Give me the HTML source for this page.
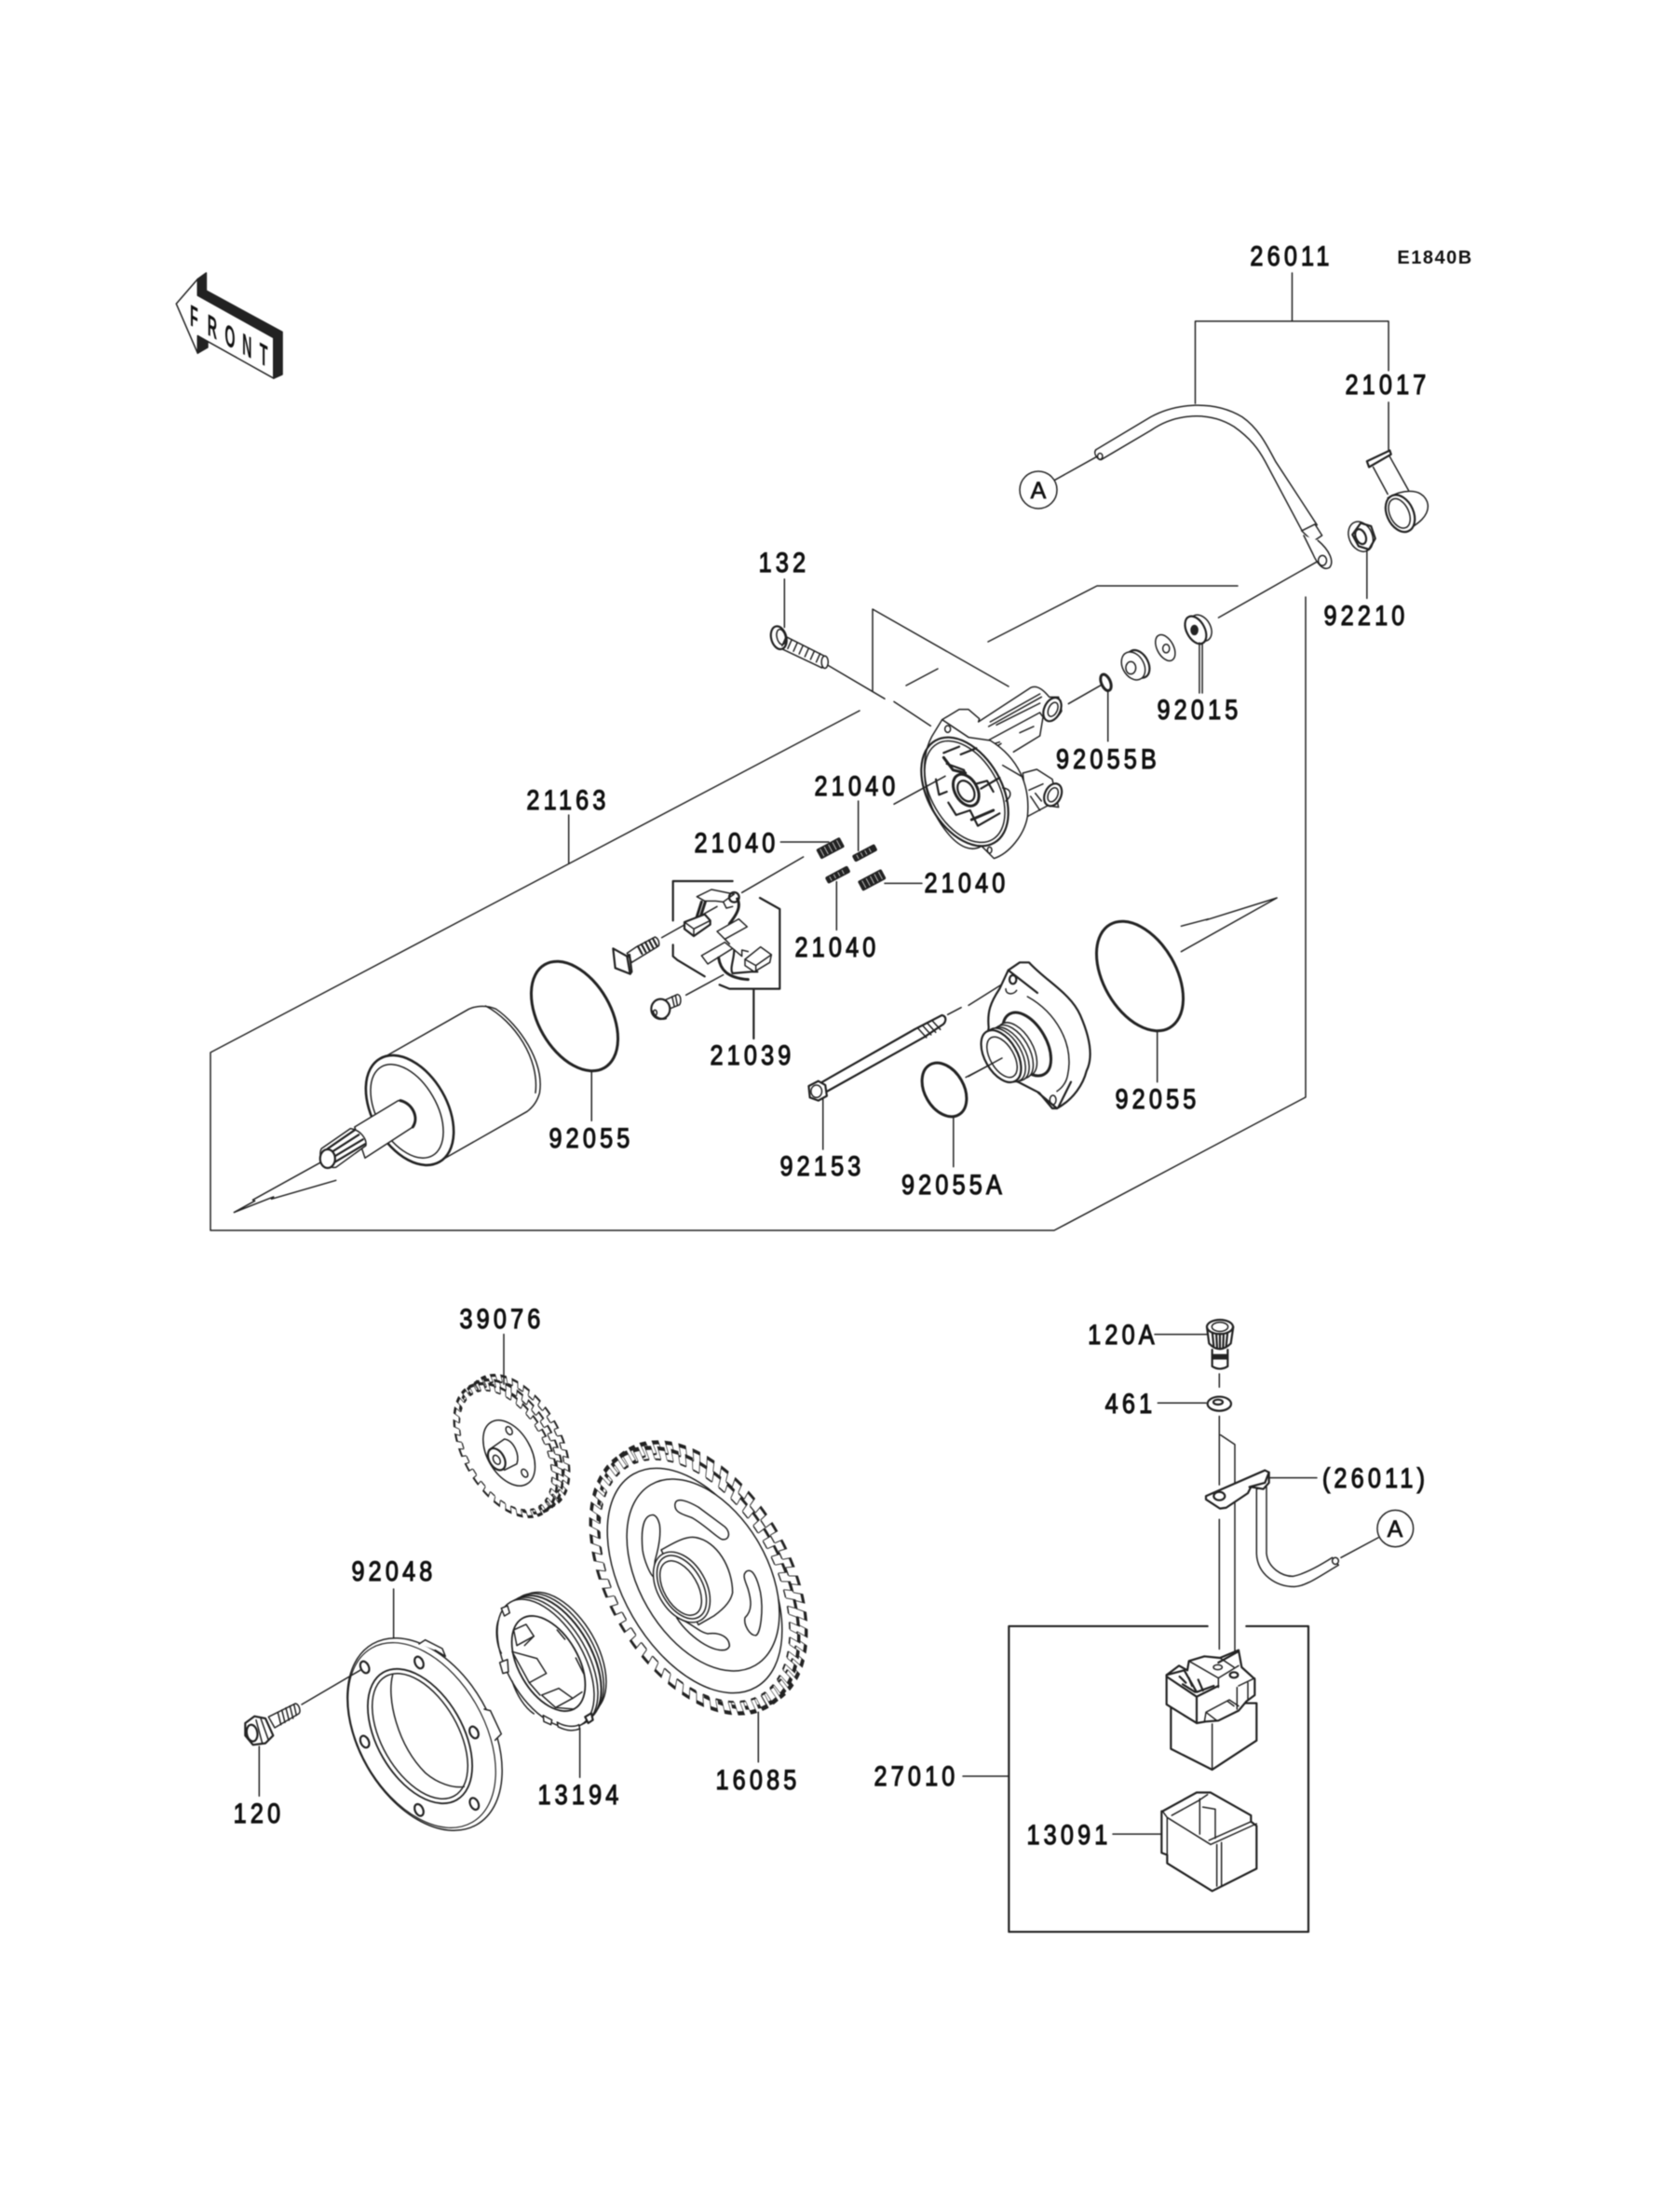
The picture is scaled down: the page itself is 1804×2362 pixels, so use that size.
<!DOCTYPE html>
<html><head><meta charset="utf-8"><style>
html,body{margin:0;padding:0;background:#fff}
svg{display:block;filter:blur(.5px)}
.l path,.l line,.l polyline,.l polygon,.l ellipse,.l circle{fill:none;stroke:#222;stroke-width:1.5;stroke-linejoin:round;stroke-linecap:round;vector-effect:non-scaling-stroke}
.l .f{fill:#fff}
.l .k{fill:#222}
.l .t{stroke-width:3}
.l .m{stroke-width:2.2}
text{font-family:"Liberation Sans",sans-serif;fill:#111;stroke:#111;stroke-width:.7;font-size:30px;letter-spacing:1.5px;text-anchor:middle}
.lb text{stroke-width:1.2;letter-spacing:5px;transform-box:fill-box;transform-origin:center;transform:scaleX(.84)}
</style></head><body>
<svg xmlns="http://www.w3.org/2000/svg" width="1804" height="2362" viewBox="0 0 1804 2362">
<rect width="1804" height="2362" fill="#fff"/>
<defs>
<g id="g52">
<circle r="95" fill="none" stroke="#222" stroke-width="10" pathLength="46" stroke-dasharray=".54 .46"/>
<circle r="90" fill="#fff" stroke="#222" stroke-width="1.4" pathLength="46" stroke-dasharray=".46 .54" stroke-dashoffset="-.54"/>
<circle r="93" fill="none" stroke="#fff" stroke-width="8" pathLength="46" stroke-dasharray=".44 .56" stroke-dashoffset="-.05"/>
</g>
<g id="g32">
<circle r="94" fill="none" stroke="#222" stroke-width="12" pathLength="28" stroke-dasharray=".56 .44"/>
<circle r="88" fill="#fff" stroke="#222" stroke-width="2.6" pathLength="28" stroke-dasharray=".44 .56" stroke-dashoffset="-.56"/>
<circle r="91.5" fill="none" stroke="#fff" stroke-width="8.5" pathLength="28" stroke-dasharray=".42 .58" stroke-dashoffset="-.07"/>
</g>
</defs>

<!-- gears -->
<use href="#g52" transform="translate(754,1691) rotate(60) scale(1.58,.94)"/>
<use href="#g52" transform="translate(746,1697) rotate(60) scale(1.58,.94)"/>
<use href="#g32" transform="translate(556,1548) rotate(60) scale(.8,.46)"/>
<use href="#g32" transform="translate(549,1553) rotate(60) scale(.8,.46)"/>
<use href="#g32" transform="translate(543,1557) rotate(60) scale(.8,.46)"/>

<g class="l">
<!-- housing outline -->
<path d="M923,763L226,1130V1321H1132L1402,1178V641"/>
<path d="M937,742V654L1083,737"/>
<path d="M1061,689L1178,629H1329"/>
<path d="M973,736L1007,718"/>
<!-- real px rings -->
<ellipse cx="617" cy="1091" rx="64" ry="39" transform="rotate(60 617 1091)" class="t"/>
<ellipse cx="1224" cy="1048" rx="64" ry="39" transform="rotate(60 1224 1048)" class="t"/>
<ellipse cx="1014" cy="1170" rx="31" ry="21" transform="rotate(60 1014 1170)" class="t"/>
<line x1="1034" y1="1907" x2="1083" y2="1907"/>

<!-- crop1 -->
<g transform="translate(150,230) scale(.5102,.4145)">
<polygon class="f" points="77,232 122,168 122,210 282,320 282,425 122,315 122,360"/>
<polygon class="k" points="122,168 140,152 140,198 300,305 300,415 282,425 282,320 122,210"/>
<polygon class="k" points="122,315 143,330 143,345 122,360"/>
<line x1="1357" y1="945" x2="1357" y2="1070"/>
<path d="M1448,1168L1568,1255"/>
<path class="f" d="M1350,1088L1442,1145L1436,1175L1345,1122Z"/>
<ellipse class="f m" cx="1345" cy="1097" rx="16" ry="30" transform="rotate(-10 1345 1097)"/>
<ellipse cx="1350" cy="1095" rx="9" ry="20" transform="rotate(-10 1350 1095)"/>
<ellipse class="f" cx="1442" cy="1160" rx="7" ry="16"/>
<path d="M1360,1096L1352,1118M1372,1103L1364,1125M1384,1110L1376,1132M1396,1117L1388,1139M1408,1124L1400,1146M1420,1131L1412,1153M1432,1138L1424,1160"/>
</g>

<!-- crop2: cable -->
<g transform="translate(950,230) scale(.4464,.4145)">
<path d="M980,152V277M747,490V277H1212V405M1212,487V615"/>
<path d="M508,610L640,525C700,490 790,480 860,525C900,555 920,600 940,640L1040,805"/>
<path d="M522,635L640,560C700,515 780,510 840,550C880,580 900,610 915,640L1003,818"/>
<path d="M508,610C500,620 515,640 522,635"/>
<ellipse cx="518" cy="627" rx="6" ry="8"/>
<line x1="410" y1="688" x2="510" y2="628"/>
<polygon class="f" points="1003,820 1035,803 1052,832 1030,848"/>
<path class="f" d="M1008,832L1030,880C1040,905 1055,925 1070,915C1082,900 1070,870 1042,845"/>
<ellipse cx="1053" cy="897" rx="10" ry="13"/>
<line x1="803" y1="1045" x2="1040" y2="900"/>
<!-- terminal 21017 -->
<path class="f m" d="M1160,640L1215,612L1218,622L1165,655Z"/>
<path d="M1175,655L1210,725M1215,628L1260,715"/>
<path class="f" d="M1210,735C1240,715 1290,705 1305,745C1315,780 1280,805 1250,822Z"/>
<ellipse class="f m" cx="1240" cy="775" rx="32" ry="50" transform="rotate(-22 1240 775)"/>
<ellipse cx="1238" cy="775" rx="23" ry="40" transform="rotate(-22 1238 775)"/>
<!-- nut -->
<ellipse class="f" cx="1145" cy="835" rx="28" ry="40" transform="rotate(-20 1145 835)"/>
<polygon class="m" points="1145,800 1170,808 1180,840 1165,868 1140,860 1125,830"/>
<ellipse class="m" cx="1145" cy="835" rx="12" ry="20" transform="rotate(-20 1145 835)"/>
<line x1="1160" y1="870" x2="1160" y2="995"/>
<!-- washers -->
<ellipse class="f" cx="760" cy="1072" rx="24" ry="36" transform="rotate(-25 760 1072)"/>
<ellipse class="f m" cx="748" cy="1077" rx="22" ry="38" transform="rotate(-25 748 1077)"/>
<ellipse class="k" cx="745" cy="1077" rx="8" ry="12"/>
<path d="M757,1110V1240M764,1110V1240"/>
<ellipse cx="675" cy="1123" rx="20" ry="36" transform="rotate(-25 675 1123)"/>
<ellipse cx="677" cy="1125" rx="8" ry="11"/>
<ellipse class="f m" cx="610" cy="1165" rx="24" ry="38" transform="rotate(-25 610 1165)"/>
<ellipse class="f" cx="598" cy="1170" rx="26" ry="38" transform="rotate(-25 598 1170)"/>
<ellipse cx="592" cy="1175" rx="12" ry="16"/>
<ellipse class="t" cx="532" cy="1213" rx="11" ry="22" transform="rotate(-20 532 1213)"/>
<line x1="537" y1="1235" x2="537" y2="1365"/>
<line x1="442" y1="1268" x2="520" y2="1220"/>
</g>

<!-- crop8: drive end housing -->
<g transform="translate(960,720) scale(.3333)">
<path d="M0,100L118,178"/>
<path class="f" d="M155,158L210,125H240L275,155L272,165L440,55C460,45 480,60 500,85L530,85L540,130C520,165 490,170 470,135L275,240L240,215Z"/>
<path d="M310,165L470,75M305,180L475,85M330,175L470,105"/>
<ellipse class="f m" cx="510" cy="125" rx="26" ry="40" transform="rotate(25 510 125)"/>
<ellipse cx="512" cy="125" rx="14" ry="24" transform="rotate(25 512 125)"/>
<path d="M385,262L470,210L480,150M340,230L275,250M405,200L450,180M305,260L345,235"/>
<path class="f" d="M415,330L460,318L510,350L530,440L495,435L430,470Z"/>
<path d="M435,385L480,365M440,405L470,450M455,395L475,420"/>
<ellipse class="f m" cx="512" cy="400" rx="26" ry="38" transform="rotate(25 512 400)"/>
<ellipse cx="512" cy="400" rx="15" ry="24" transform="rotate(25 512 400)"/>
<path class="f" d="M155,158L122,212C80,290 90,420 170,520C210,570 250,585 282,565L322,605C370,590 420,530 430,470C440,370 400,280 310,225L240,215Z"/>
<ellipse cx="173" cy="188" rx="9" ry="11"/>
<ellipse cx="308" cy="578" rx="7" ry="10"/>
<ellipse class="m" cx="228" cy="390" rx="190" ry="119" transform="rotate(60 228 390)"/>
<ellipse cx="228" cy="390" rx="178" ry="108" transform="rotate(60 228 390)"/>
<path d="M350,305L410,340M360,420C385,400 375,380 350,378"/>
<path class="m" d="M160,265L210,245M170,300L225,320L245,370L300,355L320,390M135,350L145,400L170,390M175,425L200,465L245,450L270,500L340,460M250,480L320,450M215,270L265,250M280,380L340,345"/>
<path class="t" d="M160,280L190,320L230,330M250,480L320,450"/>
<ellipse class="f t" cx="232" cy="385" rx="55" ry="36" transform="rotate(60 232 385)"/>
<ellipse class="m" cx="232" cy="388" rx="36" ry="24" transform="rotate(60 232 388)"/>
<line x1="0" y1="430" x2="165" y2="340"/>
</g>

<!-- crop9: brush area -->
<g transform="translate(640,880) scale(.3333)">
<path d="M595,72H750M845,-60V100M775,200V355M930,205H1050"/>
<path d="M470,235L668,120M212,380L390,280M290,565L410,500"/>
<path class="m" d="M440,198H248V325M248,403V440L262,452L350,505M528,252L592,288V545H430L398,532M508,545V705"/>
<!-- springs -->
<g transform="rotate(-28 755 92)"><rect class="k" x="712" y="74" width="86" height="36" rx="5"/><path d="M725,80V104M740,80V104M755,80V104M770,80V104M785,80V104" style="stroke:#bbb;stroke-width:1"/></g>
<g transform="rotate(-28 865 108)"><rect class="k" x="825" y="96" width="82" height="24" rx="6"/><path d="M840,102V114M855,102V114M870,102V114M885,102V114" style="stroke:#bbb;stroke-width:1"/></g>
<g transform="rotate(-28 778 178)"><rect class="k" x="738" y="166" width="82" height="24" rx="6"/><path d="M753,172V184M768,172V184M783,172V184M798,172V184" style="stroke:#bbb;stroke-width:1"/></g>
<g transform="rotate(-28 888 195)"><rect class="k" x="846" y="177" width="86" height="36" rx="5"/><path d="M860,183V207M875,183V207M890,183V207M905,183V207M920,183V207" style="stroke:#bbb;stroke-width:1"/></g>
<!-- pin -->
<path class="f" d="M100,430L130,410L190,378C205,385 205,405 200,408L115,460Z"/>
<path d="M135,408L148,432M147,402L160,426M159,395L172,420M171,389L184,413M183,383L196,407" class="m"/>
<polygon class="f m" points="55,415 100,440 110,497 62,478"/>
<path class="m" d="M100,440L108,435L115,490L110,497"/>
<!-- screw -->
<path class="f" d="M225,580L262,563C275,565 275,590 268,597L235,610Z"/>
<ellipse class="f m" cx="208" cy="610" rx="30" ry="32"/>
<path class="m" d="M183,618C190,640 210,645 225,640"/>
<ellipse cx="190" cy="622" rx="6" ry="9"/>
<path d="M245,570L252,600M256,566L262,597"/>
<!-- upper brush -->
<path class="f" d="M325,248L372,225L445,240L410,265L385,262L350,262Z"/>
<path class="t" d="M340,265L322,322M352,265L335,318"/>
<path class="f m" d="M285,330L350,305L368,325V338L315,375L285,352Z"/>
<path d="M285,330L315,352L368,325M315,352V375"/>
<ellipse class="m" cx="445" cy="250" rx="16" ry="16"/>
<path class="t" d="M455,255C470,280 450,310 430,335"/>
<path d="M410,265L420,285L440,280"/>
<!-- mid/lower -->
<polygon class="f" points="390,360 460,320 487,345 415,385"/>
<polygon class="f" points="340,438 415,395 440,415 360,465"/>
<path d="M415,385L430,400M440,415L470,440L470,420L490,425"/>
<path class="t" d="M395,445C400,480 420,510 490,515"/>
<path class="m" d="M445,420C445,450 430,480 440,495L500,490L520,490"/>
<path class="f" d="M480,450L530,410L565,435L560,460L510,490L480,470Z"/>
<path d="M480,450L515,470L565,435M515,470V490"/>
</g>

<!-- crop3: armature -->
<g transform="translate(200,880) scale(.4464,.3333)">
<path d="M920,-15V140M975,810V970"/>
<path d="M360,1162L205,1222L210,1215L115,1265L165,1228L160,1225L322,1105"/>
<path class="f" d="M480,762L680,610C700,598 725,598 745,610C800,660 862,780 850,880C845,905 835,925 820,940L610,1100Z"/>
<path d="M720,600C790,650 850,770 840,880"/>
</g>
<ellipse cx="440" cy="1192" rx="64" ry="40" transform="rotate(60 440 1192)" style="fill:#fff;stroke:#222;stroke-width:2.6"/>
<ellipse cx="437" cy="1193" rx="55" ry="32" transform="rotate(60 437 1193)" style="fill:#fff;stroke:#222;stroke-width:1.5"/>
<g transform="translate(200,880) scale(.4464,.3333)">
<path class="f" d="M405,990L510,905C540,905 560,960 545,990L430,1090Z"/>
<path class="t" d="M515,905C545,915 560,960 545,990"/>
<path class="f" d="M325,1060L395,995C420,1000 435,1030 432,1050L360,1120C335,1125 315,1085 325,1060Z"/>
<path d="M340,1060L405,1000M345,1075L415,1015M350,1090L425,1030M355,1105L430,1045" class="m"/>
<ellipse class="f m" cx="340" cy="1092" rx="18" ry="30"/>
</g>

<!-- crop4: rear end -->
<g transform="translate(800,950) scale(.4145,.3333)">
<line x1="202" y1="690" x2="202" y2="852"/>
<line x1="540" y1="750" x2="540" y2="908"/>
<line x1="1068" y1="475" x2="1068" y2="635"/>
<path d="M525,418L560,395"/>
<path class="m" d="M200,635L440,465L510,420C525,425 520,445 510,452L465,490L213,665"/>
<path d="M448,462L470,492M460,453L482,483M472,445L494,475M484,436L506,466"/>
<polygon class="f m" points="165,648 190,632 208,645 212,680 190,695 168,685"/>
<ellipse cx="185" cy="665" rx="14" ry="20"/>
<path d="M572,620L665,560"/>
<path d="M1130,133L1200,110L1195,113L1378,42L1130,215"/>
</g>
<!-- crop10: cover -->
<g transform="translate(1040,1020) scale(.3333)">
<path d="M0,178L105,112"/>
<path class="f m" d="M128,65L165,40H195C250,100 330,140 360,210C395,290 400,350 380,390C370,430 340,480 285,510H270L228,460L160,425C90,400 50,320 65,250C60,200 70,170 100,125Z"/>
<ellipse class="m" cx="143" cy="95" rx="11" ry="14"/>
<path class="m" d="M128,65L222,138"/>
<path d="M190,150C280,200 340,300 320,400C315,430 300,445 285,455"/>
<ellipse cx="272" cy="483" rx="10" ry="15"/>
<path class="m" d="M330,425L290,505M225,460L285,510"/>
<path d="M120,125C120,145 145,145 155,130"/>
<ellipse class="f t" cx="188" cy="303" rx="112" ry="62" transform="rotate(60 188 303)"/>
<ellipse class="f" cx="155" cy="320" rx="95" ry="52" transform="rotate(60 155 320)"/>
<ellipse class="f" cx="143" cy="328" rx="95" ry="52" transform="rotate(60 143 328)"/>
<ellipse class="f" cx="130" cy="335" rx="95" ry="52" transform="rotate(60 130 335)"/>
<ellipse class="f" cx="118" cy="338" rx="95" ry="52" transform="rotate(60 118 338)"/>
<ellipse class="f m" cx="105" cy="342" rx="92" ry="52" transform="rotate(60 105 342)"/>
<ellipse class="f" cx="108" cy="345" rx="72" ry="38" transform="rotate(60 108 345)"/>
<path d="M0,407L108,348"/>
</g>

<!-- crop7: solenoid -->
<g transform="translate(1060,1400) scale(.3333,.4464)">
<path class="m" d="M710,775H70V1510H1035V775H835"/>
<path d="M540,73H710M550,238H705M405,1275H560M910,418H1062M748,168V200M748,270V435M748,518V830M752,315L798,338V880M1140,610L1260,562"/>
<ellipse class="f" cx="1315" cy="540" rx="58" ry="44"/>
<!-- bolt -->
<path class="f m" d="M725,110V150C745,160 765,155 775,150V110"/>
<path class="k" d="M725,122H775V132H725Z"/>
<path class="f m" d="M708,55L715,95C740,115 765,110 785,95L793,55"/>
<path class="m" d="M725,65L730,102M738,68L741,106M750,70V108M762,68L760,106M775,65L770,102"/>
<ellipse class="f m" cx="750" cy="55" rx="42" ry="17"/>
<ellipse cx="750" cy="55" rx="26" ry="11"/>
<!-- washer -->
<ellipse class="f m" cx="748" cy="240" rx="38" ry="17"/>
<ellipse class="m" cx="744" cy="236" rx="15" ry="6"/>
<!-- terminal & cable -->
<path class="f" d="M868,445V600C870,650 930,680 990,680C1030,678 1070,655 1132,628L1112,610C1070,630 1020,650 985,655C950,655 905,635 900,600V440Z"/>
<ellipse class="f" cx="1122" cy="618" rx="10" ry="8"/>
<polygon class="f m" points="705,462 895,400 908,405 908,430 890,445 850,440 840,455 770,490 750,492 705,470"/>
<path class="m" d="M845,440L895,430L908,405"/>
<ellipse class="m" cx="748" cy="462" rx="18" ry="10"/>
<!-- solenoid lower -->
<path class="f m" d="M592,960V1070L725,1120L868,1050V960Z"/>
<line x1="725" y1="1010" x2="725" y2="1120"/>
<!-- cover -->
<path class="f m" d="M565,1220L675,1175H720L850,1230V1245L868,1255V1358L725,1412L580,1345V1325L562,1320V1220Z"/>
<path d="M580,1235L720,1300L868,1250M580,1235V1345M740,1300V1400M755,1295V1398M685,1190V1275M735,1215V1285M695,1210L735,1215M595,1230L680,1195L710,1180M715,1290L850,1245M565,1220L580,1235M720,1175L850,1230"/>
</g>
<g transform="translate(1230,1760) scale(.3333)">
<path class="f m" d="M68,115L108,85L135,100L140,70L190,55L240,60L300,35L310,90L352,128V180L325,200L300,230L235,262L195,265L165,270L68,210Z"/>
<path class="m" d="M68,120L165,185V270M165,185L235,150M68,115L125,100L165,170L220,150"/>
<path d="M140,70L235,125V155M235,125L300,85M240,60L285,90M190,265L195,235L270,195L300,215M195,235L230,262M265,200L285,215M300,150L352,125M295,155V225M330,140V195"/>
<path class="m" d="M110,120L130,140M140,125L150,150M170,130L185,165M120,145L160,170"/>
<ellipse class="m" cx="285" cy="115" rx="13" ry="9"/>
<ellipse cx="233" cy="90" rx="14" ry="8"/>
<path class="m" d="M235,75L298,40"/>
</g>

<!-- crop5: gear detail -->
<g transform="translate(450,1400) scale(.3333,.3827)">
<path d="M273,85V225M1093,1145V1285"/>
</g>
<ellipse cx="746" cy="1697" rx="132" ry="77" transform="rotate(60 746 1697)" style="fill:#fff;stroke:#222;stroke-width:1.5"/>
<ellipse cx="755" cy="1691" rx="112" ry="69" transform="rotate(60 755 1691)" style="fill:#fff;stroke:#222;stroke-width:1.5"/>
<g transform="translate(450,1400) scale(.3333,.3827)">
<path class="f" d="M825,560C830,540 870,555 900,570L985,625C1005,640 1000,665 975,660C960,655 920,620 880,600C850,590 820,585 825,560Z"/>
<path class="f" d="M750,592C720,595 715,640 720,690C725,720 745,760 755,765L760,720C770,690 780,650 775,620C770,600 760,590 750,592Z"/>
<path class="f" d="M1055,750C1075,740 1090,770 1100,810C1110,860 1100,925 1085,930C1065,930 1045,900 1050,880C1075,860 1070,830 1060,800C1050,775 1040,760 1055,750Z"/>
<path class="f" d="M830,880C870,890 900,920 930,925C970,920 1000,935 1000,960C990,980 950,970 920,955C890,940 850,910 830,880Z"/>
<path class="f" d="M780,690C820,670 860,650 890,655C960,665 1010,740 1010,810C1005,830 990,850 950,875L900,900Z"/>
</g>
<ellipse cx="732" cy="1704" rx="41" ry="26" transform="rotate(60 732 1704)" style="fill:#fff;stroke:#222;stroke-width:1.5"/>
<ellipse cx="732" cy="1704" rx="37" ry="22" transform="rotate(60 732 1704)" style="fill:none;stroke:#222;stroke-width:1.5"/>
<ellipse cx="731" cy="1705" rx="32" ry="18" transform="rotate(60 731 1705)" style="fill:#fff;stroke:#222;stroke-width:1.5"/>

<!-- small gear -->
<g transform="translate(480,1460) scale(.3333)">
<ellipse class="f" cx="200" cy="300" rx="115" ry="70" transform="rotate(60 200 300)"/>
<ellipse cx="200" cy="228" rx="9" ry="14" transform="rotate(-30 200 228)"/>
<ellipse cx="250" cy="365" rx="9" ry="14" transform="rotate(-30 250 365)"/>
<path class="f" d="M135,290L185,255C215,260 235,305 225,335L185,355Z"/>
<ellipse class="f m" cx="160" cy="320" rx="38" ry="24" transform="rotate(60 160 320)"/>
<ellipse cx="160" cy="322" rx="16" ry="10" transform="rotate(60 160 322)"/>
</g>

<!-- crop6: plate, clutch, bolt -->
<ellipse cx="456" cy="1862" rx="112" ry="71" transform="rotate(60 456 1862)" style="fill:#fff;stroke:#222;stroke-width:1.5"/>
<ellipse cx="453" cy="1863" rx="108" ry="67" transform="rotate(60 453 1863)" style="fill:none;stroke:#222;stroke-width:1.2"/>
<ellipse cx="451" cy="1864" rx="79" ry="46" transform="rotate(60 451 1864)" style="fill:#fff;stroke:#222;stroke-width:1.8"/>
<ellipse cx="451" cy="1864" rx="74" ry="41" transform="rotate(60 451 1864)" style="fill:#fff;stroke:#222;stroke-width:1.5"/>
<g transform="translate(230,1650) scale(.3333)">
<path d="M578,168V325M145,675V835M1178,618V775M282,540L470,430"/>
<path d="M575,445C555,520 590,670 680,760C720,795 770,810 805,805"/>
<path class="f" d="M660,345L680,332L735,360L745,385L712,365"/>
<path class="f" d="M870,555L890,560L925,635L905,655"/>
<ellipse class="m" cx="485" cy="420" rx="13" ry="20" transform="rotate(-25 485 420)"/>
<ellipse class="m" cx="660" cy="405" rx="13" ry="20" transform="rotate(-25 660 405)"/>
<ellipse class="m" cx="837" cy="630" rx="13" ry="20" transform="rotate(-25 837 630)"/>
<ellipse class="m" cx="485" cy="660" rx="13" ry="20" transform="rotate(-25 485 660)"/>
<ellipse class="m" cx="660" cy="880" rx="13" ry="20" transform="rotate(-25 660 880)"/>
<ellipse class="m" cx="838" cy="860" rx="13" ry="20" transform="rotate(-25 838 860)"/>
<!-- bolt 120 -->
<path class="f" d="M175,580L262,537C275,540 280,565 272,570L195,615Z"/>
<path d="M205,565L215,605M218,558L228,598M231,551L241,591M244,545L254,585M257,540L265,575"/>
<polygon class="f m" points="100,600 130,578 165,585 190,640 165,665 125,670 100,640"/>
<path d="M150,585L175,655M135,590L155,665"/>
<ellipse class="m" cx="122" cy="632" rx="17" ry="27" transform="rotate(-10 122 632)"/>
</g>
<!-- clutch -->
<ellipse cx="601" cy="1775" rx="72" ry="40" transform="rotate(60 601 1775)" style="fill:#fff;stroke:#222;stroke-width:1.5"/>
<ellipse cx="597" cy="1778" rx="74" ry="41" transform="rotate(60 597 1778)" style="fill:#fff;stroke:#222;stroke-width:1.5"/>
<ellipse cx="594" cy="1781" rx="75" ry="41" transform="rotate(60 594 1781)" style="fill:#fff;stroke:#222;stroke-width:2"/>
<ellipse cx="590" cy="1784" rx="76" ry="41" transform="rotate(60 590 1784)" style="fill:#fff;stroke:#222;stroke-width:1.5"/>
<ellipse cx="586" cy="1786" rx="76" ry="41" transform="rotate(60 586 1786)" style="fill:#fff;stroke:#222;stroke-width:1.5"/>
<ellipse cx="589" cy="1786" rx="56" ry="32" transform="rotate(60 589 1786)" style="fill:#fff;stroke:#222;stroke-width:1.8"/>
<g transform="translate(230,1650) scale(.3333)">
<path class="f" d="M965,300L1005,282L1030,320L975,350Z"/>
<path class="f" d="M960,370L1040,392L1070,440L1015,470L985,415Z"/>
<path class="f" d="M1055,510L1110,488L1155,520L1100,550Z"/>
<path d="M1030,320L1000,350M1015,470L1050,510M1155,520L1185,500M1100,550L1160,555"/>
<path d="M1165,390L1190,440M1105,300L1130,330"/>
<path class="f" d="M925,230L945,222L952,245L935,255Z"/>
<path class="f" d="M920,405L945,395L948,435L930,440Z"/>
<path class="f" d="M1060,575L1088,590L1085,605L1062,595Z"/>
<path class="f" d="M1105,597C1125,610 1160,615 1175,605L1178,618C1150,630 1125,620 1108,612Z"/>
<path class="f m" d="M1195,580L1215,568L1220,590L1205,600Z"/>
<path d="M915,270C905,300 910,350 925,375M960,465C975,510 1000,550 1030,570"/>
</g>
</g>

<!-- labels -->
<text transform="matrix(.55,.30,0,1.25,204,349)" x="0 34 68 102 136" style="font-size:26px;letter-spacing:0;text-anchor:start;font-weight:bold;stroke:none">FRONT</text>
<text x="1541" y="283" style="font-size:20px;letter-spacing:1.5px;font-weight:bold;stroke:none">E1840B</text>
<g class="lb">
<text x="1387" y="285">26011</text>
<text x="1490" y="423">21017</text>
<text x="1467" y="671">92210</text>
<text x="1288" y="772">92015</text>
<text x="1190" y="825">92055B</text>
<text x="842" y="614">132</text>
<text x="610" y="869">21163</text>
<text x="920" y="854">21040</text>
<text x="791" y="915">21040</text>
<text x="1038" y="958">21040</text>
<text x="899" y="1027">21040</text>
<text x="808" y="1143">21039</text>
<text x="635" y="1232">92055</text>
<text x="883" y="1262">92153</text>
<text x="1024" y="1282">92055A</text>
<text x="1243" y="1190">92055</text>
<text x="539" y="1426">39076</text>
<text x="423" y="1697">92048</text>
<text x="623" y="1937">13194</text>
<text x="814" y="1921">16085</text>
<text x="278" y="1957">120</text>
<text x="1206" y="1443">120A</text>
<text x="1214" y="1517">461</text>
<text x="1477" y="1597">(26011)</text>
<text x="984" y="1917">27010</text>
<text x="1148" y="1980">13091</text>
</g>
<circle cx="1115" cy="526" r="20" fill="#fff" stroke="#222" stroke-width="1.5"/>
<text x="1115" y="535" style="font-size:25px;letter-spacing:0">A</text>
<text x="1498" y="1650" style="font-size:25px;letter-spacing:0">A</text>
</svg>
</body></html>
